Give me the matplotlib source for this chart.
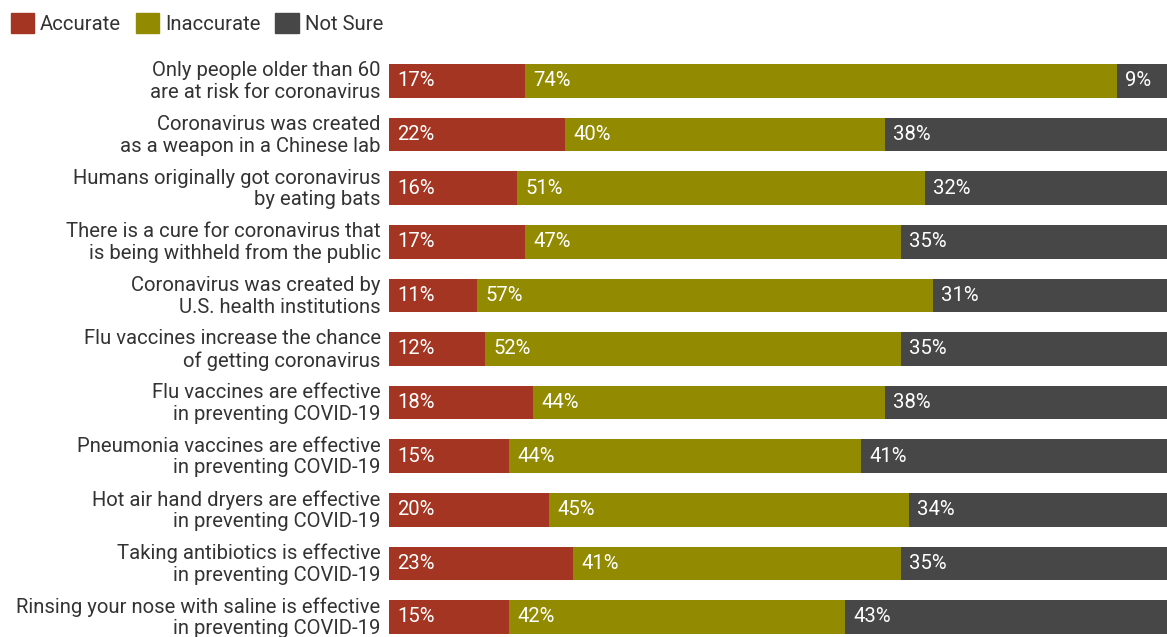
import matplotlib.pyplot as plt
import matplotlib.transforms as mtransforms
from matplotlib.patches import Patch

plt.rcParams['font.family'] = ['Roboto', 'DejaVu Sans']

statements = [
    "Only people older than 60\nare at risk for coronavirus",
    "Coronavirus was created\nas a weapon in a Chinese lab",
    "Humans originally got coronavirus\nby eating bats",
    "There is a cure for coronavirus that\nis being withheld from the public",
    "Coronavirus was created by\nU.S. health institutions",
    "Flu vaccines increase the chance\nof getting coronavirus",
    "Flu vaccines are effective\nin preventing COVID-19",
    "Pneumonia vaccines are effective\nin preventing COVID-19",
    "Hot air hand dryers are effective\nin preventing COVID-19",
    "Taking antibiotics is effective\nin preventing COVID-19",
    "Rinsing your nose with saline is effective\nin preventing COVID-19",
]
accurate = [17, 22, 16, 17, 11, 12, 18, 15, 20, 23, 15]
inaccurate = [74, 40, 51, 47, 57, 52, 44, 44, 45, 41, 42]
not_sure = [9, 38, 32, 35, 31, 35, 38, 41, 34, 35, 43]

series = ["Accurate", "Inaccurate", "Not Sure"]
colors = ["#a33522", "#928a00", "#474747"]

fig = plt.figure(figsize=(11.67, 6.37), dpi=100)
ax = fig.add_axes([389 / 1167, 0, 1 - 389 / 1167, 1])

y = list(range(len(statements)))
left = [0] * len(statements)
for vals, c in zip([accurate, inaccurate, not_sure], colors):
    bars = ax.barh(y, vals, left=left, height=0.63, color=c, linewidth=0)
    for b, v in zip(bars, vals):
        ax.annotate(f"{v}%", (b.get_x(), b.get_y() + b.get_height() / 2),
                    xytext=(6.2, 0), textcoords="offset points",
                    ha="left", va="center", color="white", fontsize=14.6)
    left = [l + v for l, v in zip(left, vals)]

ax.set_xlim(0, 97.3)
ax.set_ylim(10 + 20 / 53.6, -81 / 53.6)
ax.set_yticks(y)
ax.set_yticklabels(statements, fontsize=14.6, color="#333333", linespacing=1.18)
ax.tick_params(axis="y", length=0, pad=6)
ax.set_xticks([])
for s in ax.spines.values():
    s.set_visible(False)

# nudge the statement labels up a little
shift = mtransforms.ScaledTranslation(0, 2.5 / 100, fig.dpi_scale_trans)
for lbl in ax.get_yticklabels():
    lbl.set_transform(lbl.get_transform() + shift)

handles = [Patch(color=c, label=s) for c, s in zip(colors, series)]
fig.legend(handles=handles, loc="upper left", bbox_to_anchor=(-0.002, 1.0),
           ncol=3, frameon=False, fontsize=14.6, handlelength=1.15,
           handleheight=1.15, handletextpad=0.3, columnspacing=0.72,
           borderaxespad=0.25, labelcolor="#333333")

fig.savefig("out.png", dpi=100)
